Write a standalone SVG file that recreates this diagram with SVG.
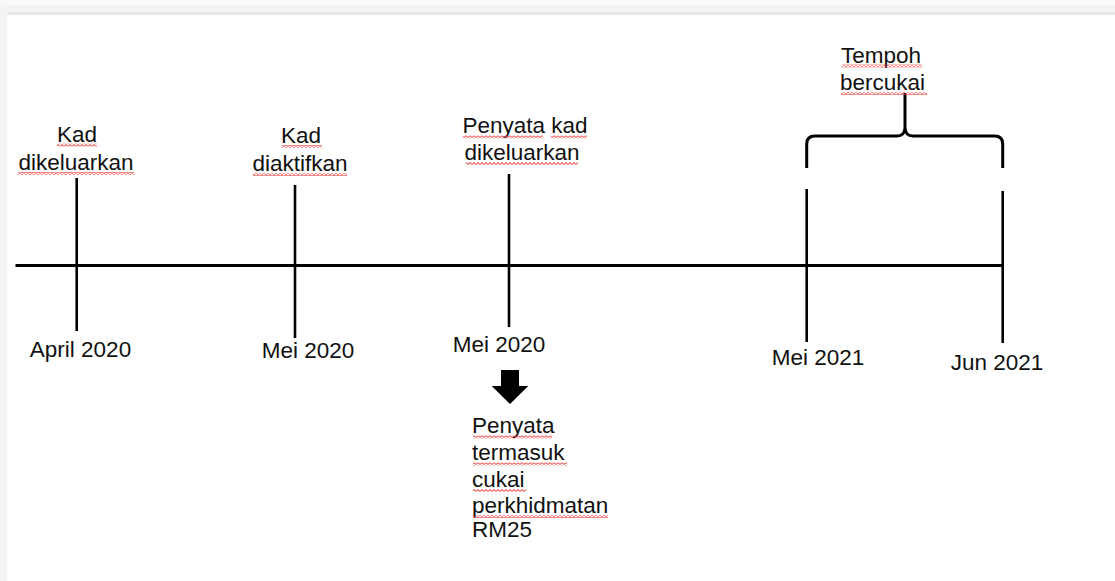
<svg xmlns="http://www.w3.org/2000/svg" width="1115" height="581" viewBox="0 0 1115 581">
<defs>
<pattern id="sq" width="4" height="3" patternUnits="userSpaceOnUse">
<path d="M0,2.5 L2,0.5 L4,2.5" fill="none" stroke="#ee4444" stroke-width="1.1"/>
</pattern>
</defs>
<style>
text{font-family:"Liberation Sans",Arial,sans-serif;font-size:22.5px;fill:#111}
.c{text-anchor:middle}
.ln{stroke:#000;stroke-width:3;fill:none;stroke-linecap:butt}
.tk{stroke:#000;stroke-width:2.6;fill:none}
.sq{fill:url(#sq);opacity:0.8}
</style>
<rect x="0" y="0" width="1115" height="581" fill="#ffffff"/>
<rect x="0" y="0" width="1115" height="5" fill="#f9f9f9"/>
<rect x="0" y="5" width="1115" height="7" fill="#f3f3f3"/>
<rect x="7" y="12" width="1108" height="3" fill="#e7e7e7"/>
<rect x="0" y="5" width="7" height="576" fill="#f4f4f4"/>

<g id="connectors">
<line class="ln" x1="15.5" y1="265.5" x2="1003" y2="265.5"/>
<line class="tk" x1="76.7" y1="178" x2="76.7" y2="331"/>
<line class="tk" x1="295" y1="185" x2="295" y2="338"/>
<line class="tk" x1="509" y1="174" x2="509" y2="327"/>
<line class="tk" x1="806.7" y1="189" x2="806.7" y2="342"/>
<line class="tk" x1="1002.7" y1="191" x2="1002.7" y2="343"/>
<path class="ln" d="M806.7,168 V144 Q806.7,136 814.7,136 H897 Q904.5,136 905,128 V93 M905,128 Q905.5,136 913,136 H994.7 Q1002.7,136 1002.7,144 V168"/>
<polygon points="501,370 519,370 519,386 528.3,386 510,404 491.7,386 501,386" fill="#000"/>
</g>

<g id="n-kad-dikeluarkan">
<text class="c" x="77" y="142">Kad</text>
<text class="c" x="76" y="170">dikeluarkan</text>
<rect class="sq" x="57" y="143.5" width="40" height="3"/>
<rect class="sq" x="18" y="172" width="116" height="3"/>
</g>
<g id="n-kad-diaktifkan">
<text class="c" x="301" y="143">Kad</text>
<text class="c" x="300" y="171">diaktifkan</text>
<rect class="sq" x="282" y="145" width="40" height="3"/>
<rect class="sq" x="253" y="173" width="94" height="3"/>
</g>
<g id="n-penyata-kad">
<text class="c" x="525" y="133">Penyata kad</text>
<text class="c" x="522" y="160">dikeluarkan</text>
<rect class="sq" x="463" y="135.5" width="80" height="3"/>
<rect class="sq" x="551" y="135.5" width="36" height="3"/>
<rect class="sq" x="466" y="162" width="112" height="3"/>
</g>
<g id="n-tempoh">
<text x="841" y="63">Tempoh</text>
<text x="840" y="90">bercukai</text>
<rect class="sq" x="842" y="64.5" width="80" height="3"/>
<rect class="sq" x="841" y="92" width="86" height="3"/>
</g>
<g id="n-april2020"><text class="c" x="80.5" y="357">April 2020</text></g>
<g id="n-mei2020a"><text class="c" x="308" y="358">Mei 2020</text></g>
<g id="n-mei2020b"><text class="c" x="499" y="352">Mei 2020</text></g>
<g id="n-mei2021"><text class="c" x="818" y="365">Mei 2021</text></g>
<g id="n-jun2021"><text class="c" x="997" y="370">Jun 2021</text></g>
<g id="n-penyata-cukai">
<text x="472" y="433">Penyata</text>
<text x="472" y="460">termasuk</text>
<text x="472" y="487">cukai</text>
<text x="472" y="512.5">perkhidmatan</text>
<text x="472" y="537">RM25</text>
<rect class="sq" x="473" y="435.5" width="79" height="3"/>
<rect class="sq" x="473" y="462.5" width="94" height="3"/>
<rect class="sq" x="473" y="489" width="53" height="3"/>
<rect class="sq" x="473" y="515" width="135" height="3"/>
</g>
</svg>
